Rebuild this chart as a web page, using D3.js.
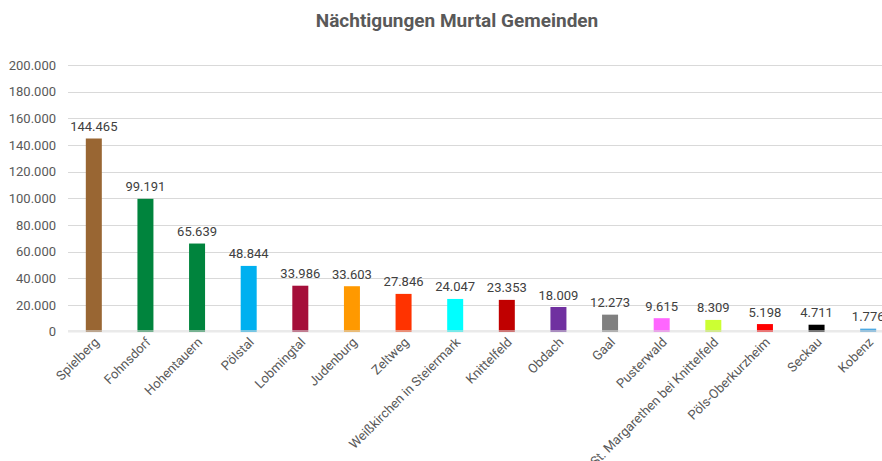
<!DOCTYPE html>
<html>
<head>
<meta charset="utf-8">
<script src="https://cdn.jsdelivr.net/npm/d3@7"></script>
<style>
  html, body { margin: 0; padding: 0; background: #fff; overflow: hidden; }
  svg { display: block; font-family: Roboto, "Noto Sans", sans-serif; }
</style>
</head>
<body>
<script>
const categories = ["Spielberg", "Fohnsdorf", "Hohentauern", "Pölstal", "Lobmingtal", "Judenburg", "Zeltweg",
  "Weißkirchen in Steiermark", "Knittelfeld", "Obdach", "Gaal", "Pusterwald",
  "St. Margarethen bei Knittelfeld", "Pöls-Oberkurzheim", "Seckau", "Kobenz"];
const values = [144465, 99191, 65639, 48844, 33986, 33603, 27846, 24047, 23353, 18009, 12273, 9615, 8309, 5198, 4711, 1776];
const colors = ["#996633", "#00843d", "#00843d", "#00b0f0", "#a50f3a", "#ff9900", "#ff3300", "#00ffff",
  "#c00000", "#7030a0", "#808080", "#ff66ff", "#ccff33", "#ff0000", "#000000", "#4ea9e2"];
const yTicks = [0, 20000, 40000, 60000, 80000, 100000, 120000, 140000, 160000, 180000, 200000];
const title = "Nächtigungen Murtal Gemeinden";

const W = 882, H = 461;
const de = d3.formatLocale({decimal: ",", thousands: ".", grouping: [3], currency: ["", " €"]});
const fmt = de.format(",");

const svg = d3.select("body").append("svg").attr("width", W).attr("height", H);

const x = d3.scaleBand().domain(categories).range([68, 894]).paddingInner(0.69).paddingOuter(0.345);
const y = d3.scaleLinear().domain([0, 200000]).range([331.5, 65]);

svg.append("text")
  .attr("x", 457).attr("y", 27)
  .attr("text-anchor", "middle")
  .attr("font-size", 19).attr("font-weight", "bold").attr("fill", "#595959")
  .text(title);

// grid
svg.append("g").selectAll("line").data(yTicks.filter(d => d > 0)).join("line")
  .attr("x1", 68).attr("x2", 894)
  .attr("y1", d => Math.round(y(d)) + 0.5).attr("y2", d => Math.round(y(d)) + 0.5)
  .attr("stroke", "#d9d9d9").attr("stroke-width", 1);

// y axis labels
const yAxis = d3.axisLeft(y).tickValues(yTicks).tickFormat(fmt).tickSize(0).tickPadding(12);
const gy = svg.append("g").attr("transform", "translate(68,0)").call(yAxis);
gy.select(".domain").remove();
gy.selectAll("text").attr("font-size", 13).attr("fill", "#595959").attr("font-family", "Roboto, sans-serif");

// bars
svg.append("g").selectAll("rect").data(values).join("rect")
  .attr("x", (d, i) => x(categories[i]))
  .attr("y", d => y(d) - 0.5)
  .attr("width", x.bandwidth())
  .attr("height", d => y(0) - y(d) + 1)
  .attr("fill", (d, i) => colors[i]);

// baseline (semi-transparent over bars)
svg.append("rect").attr("x", 68).attr("y", y(0) - 1.5).attr("width", 826).attr("height", 2.5)
  .attr("fill", "#d9d9d9").attr("fill-opacity", 0.55);

// value labels
svg.append("g").selectAll("text").data(values).join("text")
  .attr("x", (d, i) => x(categories[i]) + x.bandwidth() / 2)
  .attr("y", d => y(d) - 8)
  .attr("text-anchor", "middle")
  .attr("font-size", 13).attr("fill", "#404040")
  .text(d => fmt(d));

// x axis labels
const xAxis = d3.axisBottom(x).tickSize(0).tickPadding(0);
const gx = svg.append("g").attr("transform", "translate(0,331)").call(xAxis);
gx.select(".domain").remove();
gx.selectAll("text")
  .attr("font-size", 13).attr("fill", "#595959").attr("font-family", "Roboto, sans-serif")
  .attr("text-anchor", "end")
  .attr("dy", null).attr("y", 0)
  .attr("transform", "translate(6,12) rotate(-45)");
</script>
</body>
</html>
